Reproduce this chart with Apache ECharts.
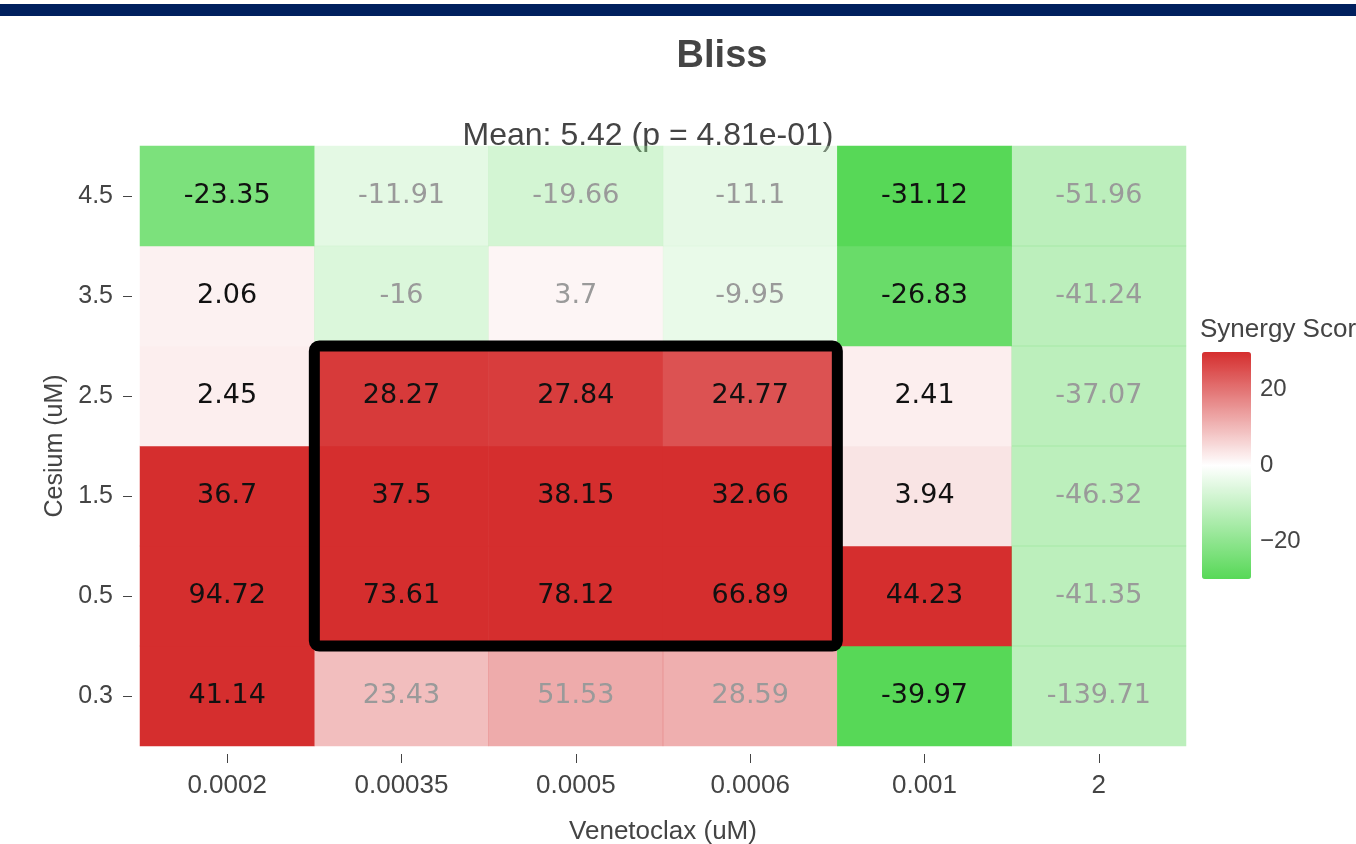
<!DOCTYPE html>
<html>
<head>
<meta charset="utf-8">
<script src="https://cdn.jsdelivr.net/npm/echarts@6/dist/echarts.min.js"></script>
<style>
  html, body { margin: 0; padding: 0; background: #fff; }
  #main { width: 1356px; height: 844px; }
</style>
</head>
<body>
<div id="main"></div>
<script>
// Venetoclax doses (x) and Cesium doses (y, bottom to top)
const venetoclax = ['0.0002', '0.00035', '0.0005', '0.0006', '0.001', '2'];
const cesium = ['0.3', '0.5', '1.5', '2.5', '3.5', '4.5'];

// synergy scores, one row per cesium dose (same order as cesium)
const row03 = [41.14, 23.43, 51.53, 28.59, -39.97, -139.71];
const row05 = [94.72, 73.61, 78.12, 66.89, 44.23, -41.35];
const row15 = [36.7, 37.5, 38.15, 32.66, 3.94, -46.32];
const row25 = [2.45, 28.27, 27.84, 24.77, 2.41, -37.07];
const row35 = [2.06, -16, 3.7, -9.95, -26.83, -41.24];
const row45 = [-23.35, -11.91, -19.66, -11.1, -31.12, -51.96];
const scores = [row03, row05, row15, row25, row35, row45];

// cells drawn faded (1 = faded)
const faded03 = [0, 1, 1, 1, 0, 1];
const faded05 = [0, 0, 0, 0, 0, 1];
const faded15 = [0, 0, 0, 0, 0, 1];
const faded25 = [0, 0, 0, 0, 0, 1];
const faded35 = [0, 1, 1, 1, 0, 1];
const faded45 = [0, 1, 1, 1, 0, 1];
const faded = [faded03, faded05, faded15, faded25, faded35, faded45];

// highlighted block (column and row ranges)
const boxCols = ['0.00035', '0.0006'];
const boxRows = ['0.5', '2.5'];

const legendTicks = [-20, 0, 20];

const chart = echarts.init(document.getElementById('main'));

var data = [];
scores.forEach(function (row, yi) {
  row.forEach(function (v, xi) {
    var item = { value: [xi, yi, v] };
    if (faded[yi][xi]) {
      item.itemStyle = { opacity: 0.4 };
      item.label = { opacity: 1, color: '#9a9a9a' };
    }
    data.push(item);
  });
});

var axisFont = 'Liberation Sans, Arial, sans-serif';

var option = {
  animation: false,
  grid: [
    { left: 140, right: 170, top: 146, bottom: 98, outerBoundsMode: 'none', containLabel: false },
    { left: 1202, top: 352, width: 49, height: 227, outerBoundsMode: 'none', containLabel: false }
  ],
  xAxis: [{
    type: 'category',
    data: venetoclax,
    offset: 8,
    axisLine: { show: false },
    axisTick: { show: true, length: 9, alignWithLabel: true, lineStyle: { color: '#444' } },
    axisLabel: { fontSize: 26, color: '#444', fontFamily: axisFont, margin: 19 },
    splitLine: { show: false },
    name: 'Venetoclax (uM)',
    nameLocation: 'middle',
    nameGap: 65,
    nameTextStyle: { fontSize: 26, color: '#444', fontFamily: axisFont }
  }, {
    gridIndex: 1, type: 'value', show: false
  }],
  yAxis: [{
    type: 'category',
    data: cesium,
    offset: 8,
    axisLine: { show: false },
    axisTick: { show: true, length: 9, alignWithLabel: true, lineStyle: { color: '#444' } },
    axisLabel: { fontSize: 25, color: '#444', fontFamily: axisFont, margin: 19 },
    splitLine: { show: false },
    name: 'Cesium (uM)',
    nameLocation: 'middle',
    nameGap: 57,
    nameTextStyle: { fontSize: 25, color: '#444', fontFamily: axisFont }
  }, {
    gridIndex: 1,
    type: 'value',
    position: 'right',
    min: -30,
    max: 30,
    axisLine: { show: false },
    axisTick: { show: false },
    splitLine: { show: false },
    axisLabel: {
      customValues: legendTicks,
      fontSize: 24,
      color: '#444',
      fontFamily: axisFont,
      margin: 9,
      formatter: function (v) { return String(v).replace('-', '\u2212'); }
    }
  }],
  visualMap: {
    type: 'continuous',
    min: -30,
    max: 30,
    dimension: 2,
    seriesIndex: 0,
    calculable: false,
    hoverLink: false,
    left: 1202,
    top: 352,
    itemWidth: 49,
    itemHeight: 227,
    padding: 0,
    inRange: { color: ['#57d857', '#ffffff', '#d52e2e'] }
  },
  series: [{
    type: 'heatmap',
    data: data,
    label: {
      show: true,
      fontSize: 27,
      fontFamily: 'DejaVu Sans, Verdana, sans-serif',
      color: '#111',
      formatter: function (p) { return String(p.value[2]); }
    },
    emphasis: { disabled: true }
  }],
  graphic: [
    { type: 'rect', left: 0, top: 4, shape: { width: 1356, height: 12 }, style: { fill: '#00205e' } },
    { type: 'text', x: 722, y: 57, style: { text: 'Bliss', textAlign: 'center', textVerticalAlign: 'middle', font: 'bold 38px Liberation Sans, Arial, sans-serif', fill: '#444' } },
    { type: 'text', x: 648, y: 136, style: { text: 'Mean: 5.42 (p = 4.81e-01)', textAlign: 'center', textVerticalAlign: 'middle', font: '32px Liberation Sans, Arial, sans-serif', fill: '#444' } },
    { type: 'text', x: 1200, y: 330, style: { text: 'Synergy Score', textAlign: 'left', textVerticalAlign: 'middle', font: '26px Liberation Sans, Arial, sans-serif', fill: '#444' } }
  ]
};
chart.setOption(option);

// black frame around the highlighted block, placed through the axes
var xi0 = venetoclax.indexOf(boxCols[0]), xi1 = venetoclax.indexOf(boxCols[1]);
var yi0 = cesium.indexOf(boxRows[0]), yi1 = cesium.indexOf(boxRows[1]);
var a = chart.convertToPixel({ seriesIndex: 0 }, [xi0, yi0]);
var b = chart.convertToPixel({ seriesIndex: 0 }, [xi1, yi1]);
var step = chart.convertToPixel({ seriesIndex: 0 }, [xi0 + 1, yi0 + 1]);
var cw = step[0] - a[0], ch = a[1] - step[1];
var x0 = a[0] - cw / 2, x1 = b[0] + cw / 2;
var y0 = b[1] - ch / 2, y1 = a[1] + ch / 2;
option.graphic.push({
  type: 'rect',
  z: 100,
  shape: { x: x0, y: y0, width: x1 - x0, height: y1 - y0, r: 5 },
  style: { fill: 'none', stroke: '#000', lineWidth: 11 }
});
chart.setOption({ graphic: option.graphic });
</script>
</body>
</html>
